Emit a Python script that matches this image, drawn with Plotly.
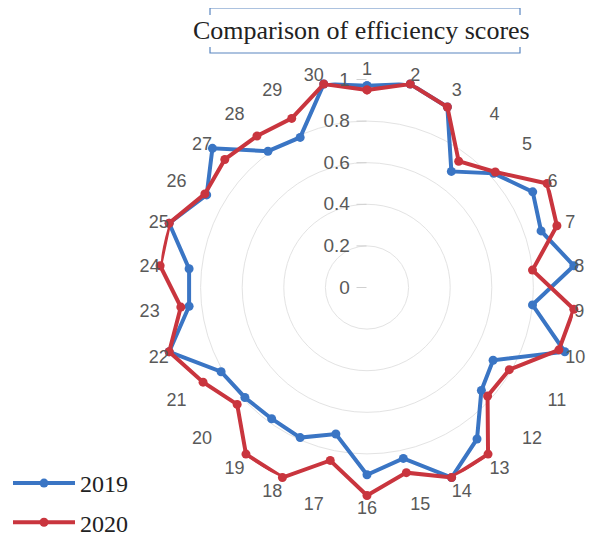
import plotly.graph_objects as go

categories = [str(i) for i in range(1, 31)]
values_2019 = [0.97, 1.0, 0.95, 0.69, 0.82, 0.92, 0.88, 1.0, 0.80, 1.0,
               0.70, 0.74, 0.90, 1.0, 0.84, 0.90, 0.72, 0.79, 0.78, 0.79,
               0.81, 1.0, 0.86, 0.86, 1.0, 0.89, 1.0, 0.81, 0.79, 1.0]
values_2020 = [0.95, 1.0, 0.95, 0.75, 0.83, 1.0, 0.96, 0.80, 1.0, 0.97,
               0.79, 0.78, 0.99, 1.0, 0.91, 1.0, 0.85, 1.0, 0.99, 0.84,
               0.91, 1.0, 0.90, 1.0, 1.0, 0.90, 0.92, 0.90, 0.89, 1.0]
series_names = ["2019", "2020"]
radial_ticks = [0, 0.2, 0.4, 0.6, 0.8, 1]
radial_ticktext = ["0", "0.2", "0.4", "0.6", "0.8", "1"]
title_text = "Comparison of efficiency scores"

blue = "#3A75C4"
red = "#C9353E"

fig = go.Figure()
for name, vals, col, lg in [(series_names[0], values_2019, blue, "a"),
                             (series_names[1], values_2020, red, "b")]:
    fig.add_trace(go.Scatterpolar(
        r=vals + [vals[0]],
        theta=categories + [categories[0]],
        mode="lines+markers",
        name=name,
        legendgroup=lg,
        line=dict(color=col, width=4),
        marker=dict(color=col, size=9, symbol="circle"),
    ))

W, H = 595, 538
OFF = 8  # page body margin offset
cx, cy, R = 367 - OFF, 287.5 - OFF, 208

def px(x):
    return (x - OFF) / W

def py(y):
    return 1 - (y - OFF) / H

fig.update_layout(
    width=W, height=H,
    margin=dict(l=0, r=0, t=0, b=0),
    paper_bgcolor="white",
    plot_bgcolor="white",
    font=dict(family="Liberation Sans, Arial", color="#595959", size=16),
    polar=dict(
        domain=dict(x=[(cx - R) / W, (cx + R) / W],
                    y=[1 - (cy + R) / H, 1 - (cy - R) / H]),
        bgcolor="white",
        angularaxis=dict(
            type="category",
            rotation=90,
            direction="clockwise",
            showgrid=False,
            showline=False,
            ticks="",
            tickfont=dict(size=18, color="#595959", family="Liberation Sans, Arial"),
        ),
        radialaxis=dict(
            range=[0, 1],
            angle=90,
            tickangle=90,
            side="counterclockwise",
            tickvals=radial_ticks,
            ticktext=radial_ticktext,
            showline=False,
            ticks="outside",
            ticklen=10,
            tickcolor="#D0D0D0",
            gridcolor="#E3E3E3",
            gridwidth=1,
            tickfont=dict(size=19, color="#595959", family="Liberation Sans, Arial"),
        ),
    ),
    legend=dict(
        x=0.0, y=1 / H, xanchor="left", yanchor="bottom",
        traceorder="grouped",
        tracegroupgap=5,
        itemwidth=62,
        font=dict(family="Liberation Serif, Times New Roman", size=24, color="#222222"),
        bgcolor="rgba(0,0,0,0)",
    ),
    annotations=[dict(
        text=title_text, x=px(361), y=py(31), xref="paper", yref="paper",
        xanchor="center", yanchor="middle", showarrow=False,
        font=dict(family="Liberation Serif, Times New Roman", size=26, color="#222222"),
    )],
    shapes=[
        dict(type="path", xref="paper", yref="paper",
             path=f"M {px(210)},{py(15)} L {px(210)},{py(8)} L {px(520)},{py(8)} L {px(520)},{py(15)}",
             line=dict(color="#5A86C0", width=1.2)),
        dict(type="path", xref="paper", yref="paper",
             path=f"M {px(210)},{py(47)} L {px(210)},{py(53)} L {px(520)},{py(53)} L {px(520)},{py(47)}",
             line=dict(color="#5A86C0", width=1.2)),
    ],
)

fig.write_html("out.html")
